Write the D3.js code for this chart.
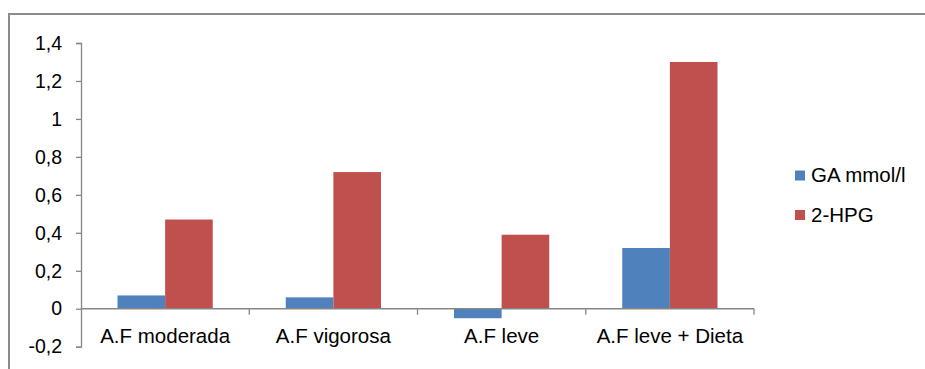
<!DOCTYPE html>
<html><head><meta charset="utf-8">
<script src="https://cdn.jsdelivr.net/npm/d3@7"></script>
<style>body{margin:0;background:#fff}svg{display:block}</style>
</head><body>
<svg id="chart" width="925" height="369"></svg>
<script>
const categories = ["A.F moderada", "A.F vigorosa", "A.F leve", "A.F leve + Dieta"];
const seriesNames = ["GA mmol/l", "2-HPG"];
const gaValues = [0.07, 0.06, -0.05, 0.32];
const hpgValues = [0.47, 0.72, 0.39, 1.30];
const yTicks = [-0.2, 0, 0.2, 0.4, 0.6, 0.8, 1, 1.2, 1.4];
const colors = ["#4F81BD", "#C0504D"];

const svg = d3.select("#chart");
const font = "'Liberation Sans', Arial, sans-serif";
const tickFs = 19.5;
const labelFs = 20.5;

// outer frame
svg.append("rect").attr("x", 9).attr("y", 14).attr("width", 930).attr("height", 380)
  .attr("fill", "none").attr("stroke", "#8c8c8c").attr("stroke-width", 2);

const x0 = d3.scaleBand().domain(categories).range([81, 754]).paddingInner(0).paddingOuter(0);
const x1 = d3.scaleBand().domain(seriesNames).range([36.5, x0.bandwidth() - 36.5]).padding(0);
const y = d3.scaleLinear().domain([-0.2, 1.4]).range([346.7, 43]);

const rows = categories.map((c, i) => ({cat: c, vals: [gaValues[i], hpgValues[i]]}));

const g = svg.append("g");
g.selectAll("g.grp").data(rows).join("g").attr("class", "grp")
  .attr("transform", d => `translate(${x0(d.cat)},0)`)
  .selectAll("rect").data(d => d.vals.map((v, j) => ({v, j})))
  .join("rect")
  .attr("x", d => x1(seriesNames[d.j]))
  .attr("width", x1.bandwidth())
  .attr("y", d => y(Math.max(0, d.v)))
  .attr("height", d => Math.abs(y(d.v) - y(0)))
  .attr("fill", d => colors[d.j]);

// y axis
const yAxis = d3.axisLeft(y).tickValues(yTicks).tickSize(5).tickPadding(14)
  .tickFormat(d => String(+d.toFixed(1)).replace(".", ","));
const ya = svg.append("g").attr("transform", "translate(81,0)").call(yAxis);
ya.select(".domain").attr("stroke", "#868686").attr("stroke-width", 1.3);
ya.selectAll(".tick line").attr("stroke", "#868686").attr("stroke-width", 1.3);
ya.selectAll(".tick text").attr("font-family", font).attr("font-size", tickFs).attr("fill", "#000");

// x axis along zero
const xa = svg.append("g").attr("transform", `translate(0,${y(0)})`);
xa.append("line").attr("x1", 81).attr("x2", 754).attr("y1", 0).attr("y2", 0)
  .attr("stroke", "#868686").attr("stroke-width", 1.3);
const bounds = categories.map(c => x0(c)).concat([754]).slice(1);
xa.selectAll("line.tk").data(bounds).join("line").attr("class", "tk")
  .attr("x1", d => d).attr("x2", d => d).attr("y1", 0).attr("y2", 6)
  .attr("stroke", "#868686").attr("stroke-width", 1.3);
xa.selectAll("text").data(categories).join("text")
  .attr("x", d => x0(d) + x0.bandwidth() / 2).attr("y", 34)
  .attr("text-anchor", "middle").attr("font-family", font).attr("font-size", labelFs)
  .attr("fill", "#000").text(d => d);

// legend
const lg = svg.append("g").attr("transform", "translate(795,170.5)");
const items = lg.selectAll("g").data(seriesNames).join("g")
  .attr("transform", (d, i) => `translate(0,${i * 39.5})`);
items.append("rect").attr("width", 10).attr("height", 10).attr("fill", (d, i) => colors[i]);
items.append("text").attr("x", 16).attr("y", 11.5).attr("font-family", font)
  .attr("font-size", labelFs).attr("fill", "#000").text(d => d);
</script>
</body></html>
